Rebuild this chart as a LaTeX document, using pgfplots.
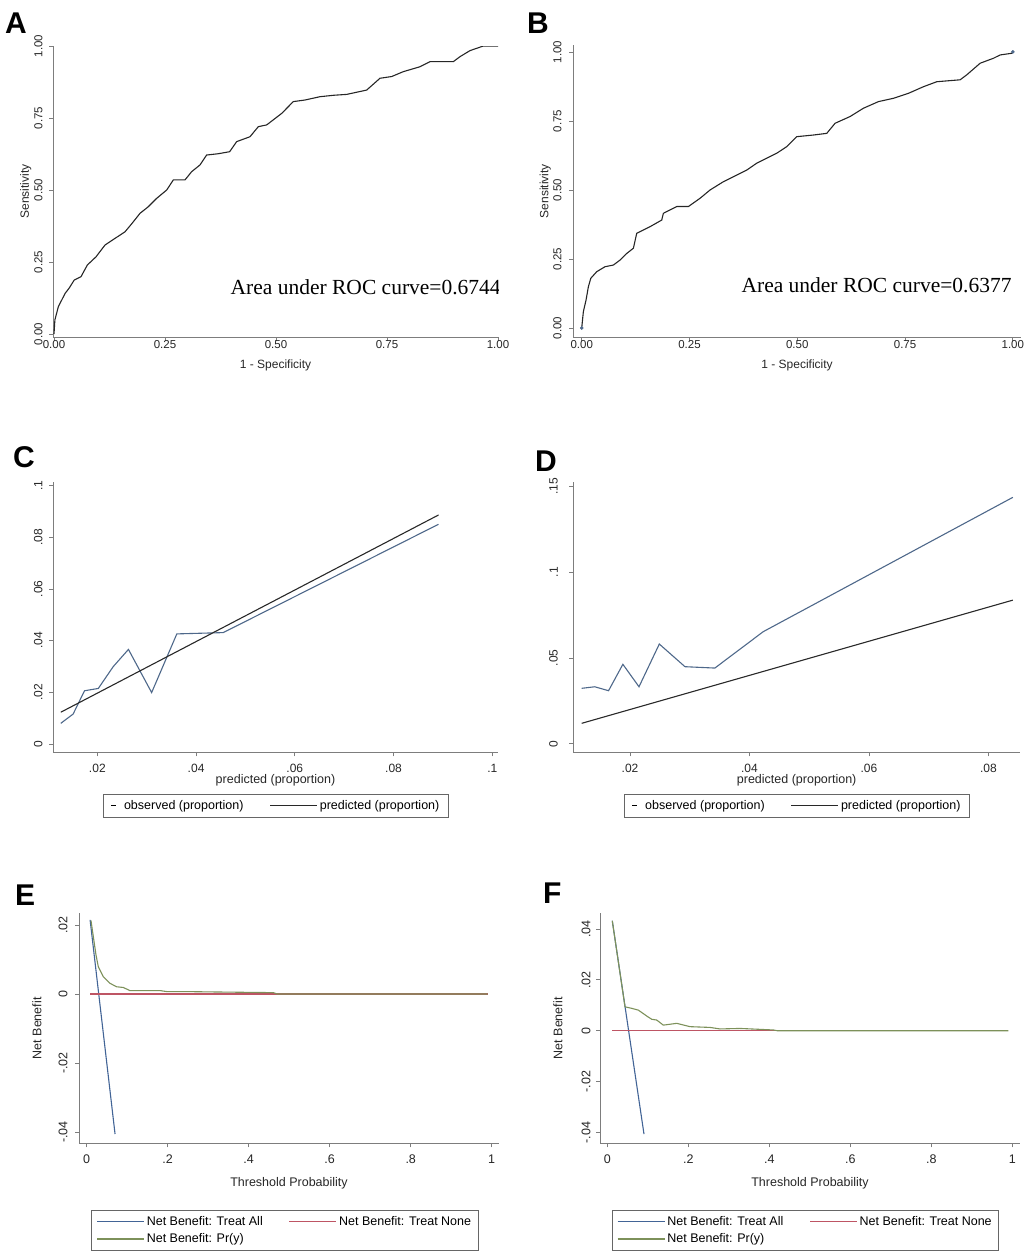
\documentclass[border=0pt]{standalone}
\usepackage{fontspec}
\setmainfont{Liberation Sans}
\newfontfamily\timesfont{Liberation Serif}
\usepackage{pgfplots}
\pgfplotsset{compat=1.18}

\definecolor{axgray}{RGB}{125,125,125}
\definecolor{obs}{RGB}{78,104,138}
\definecolor{pred}{RGB}{40,40,40}
\definecolor{tall}{RGB}{66,100,150}
\definecolor{tnone}{RGB}{190,85,100}
\definecolor{pry}{RGB}{125,145,90}

\newcommand{\fsz}[1]{\fontsize{#1bp}{#1bp}\selectfont}

\pgfplotsset{
  stata/.style={
    scale only axis,
    axis x line*=bottom, axis y line*=left,
    axis line style={axgray, line width=0.8bp},
    tick style={axgray, line width=0.7bp},
    major tick length=4bp,
    tick align=outside,
    minor tick num=0,
    scaled ticks=false,
    yticklabel style={rotate=90, anchor=south},
    ticklabel style={font=\fsz{11.5}, text=black!85},
    label style={font=\fsz{12}, text=black!85},
  },
  statalegend/.style={
    legend style={draw=black!60, line width=0.6bp, font=\fsz{12.5},
      inner xsep=7bp, inner ysep=4bp, legend columns=2, row sep=3bp,
      /tikz/every even column/.append style={column sep=24bp}},
    legend cell align=left,
  },
  legpred/.style={legend image code/.code={\draw[draw=pred, line width=1.3bp] (0bp,0bp)--(47bp,0bp);}},
  legobs/.style={legend image code/.code={\draw[draw=black, line width=1bp] (0bp,0bp)--(5bp,0bp); \path[draw=none] (0bp,0bp)--(11bp,0bp);}},
  legtall/.style={legend image code/.code={\draw[draw=tall, line width=1.3bp] (0bp,0bp)--(47bp,0bp);}},
  legtnone/.style={legend image code/.code={\draw[draw=tnone, line width=1.3bp] (0bp,0bp)--(47bp,0bp);}},
  legpry/.style={legend image code/.code={\draw[draw=pry, line width=1.3bp] (0bp,0bp)--(47bp,0bp);}},
}

\begin{document}
\begin{tikzpicture}[x=1bp,y=-1bp]
\useasboundingbox (0,0) rectangle (1027,1251);

% ---------------- A: ROC, development
\begin{axis}[stata, at={(53bp,-337bp)}, anchor=south west,
  width=445bp, height=291bp,
  xmin=-0.00225, xmax=1.0, ymin=-0.0104, ymax=1.0,
  xtick={0,0.25,0.5,0.75,1}, xticklabels={0.00,0.25,0.50,0.75,1.00},
  ytick={0,0.25,0.5,0.75,1}, yticklabels={0.00,0.25,0.50,0.75,1.00},
  xticklabel shift=-4bp, yticklabel shift=3bp,
  xlabel={1 - Specificity}, ylabel={Sensitivity},
  xlabel style={at={(axis description cs:0.5,-0.096)}, anchor=center},
  ylabel style={at={(axis description cs:-0.061,0.5)}, anchor=center},
]
\addplot[black!85, line width=1.1bp] coordinates {
 (0,0) (0.002,0.049) (0.0098,0.095) (0.025,0.141) (0.034,0.159) (0.0456,0.1875)
 (0.0608,0.199) (0.0751,0.2396) (0.0946,0.268) (0.1149,0.309) (0.1374,0.332)
 (0.16,0.355) (0.1757,0.384) (0.1937,0.419) (0.2124,0.442) (0.2312,0.471)
 (0.2538,0.5) (0.2688,0.535) (0.295,0.535) (0.31,0.5636) (0.3288,0.587)
 (0.3438,0.6215) (0.37,0.626) (0.3956,0.633) (0.4114,0.668) (0.4414,0.685) (0.4602,0.72)
 (0.479,0.726) (0.5128,0.766) (0.539,0.807) (0.5653,0.8125) (0.5991,0.824)
 (0.63,0.829) (0.6592,0.832) (0.7042,0.847) (0.7342,0.888) (0.7605,0.894) (0.7868,0.911)
 (0.8243,0.928) (0.8468,0.9456) (0.8994,0.9456) (0.9144,0.963) (0.9369,0.984)
 (0.967,1.0) (1.0,1.0)
};
\node[font=\timesfont\fsz{21.5}] at (axis cs:0.702,0.163) {Area under ROC curve=0.6744};
\end{axis}

% ---------------- B: ROC, validation
\begin{axis}[stata, at={(573bp,-337bp)}, anchor=south west,
  width=448bp, height=292bp,
  xmin=-0.0202, xmax=1.019, ymin=-0.0326, ymax=1.025,
  xtick={0,0.25,0.5,0.75,1}, xticklabels={0.00,0.25,0.50,0.75,1.00},
  ytick={0,0.25,0.5,0.75,1}, yticklabels={0.00,0.25,0.50,0.75,1.00},
  xticklabel shift=-4bp, yticklabel shift=4bp,
  xlabel={1 - Specificity}, ylabel={Sensitivity},
  xlabel style={at={(axis description cs:0.5,-0.096)}, anchor=center},
  ylabel style={at={(axis description cs:-0.062,0.5)}, anchor=center},
]
\addplot[black!85, line width=1.1bp] coordinates {
 (0,0) (0.0038,0.059) (0.01,0.101) (0.0155,0.15) (0.021,0.18) (0.0348,0.204)
 (0.054,0.222) (0.0735,0.228) (0.0889,0.246) (0.1044,0.27) (0.1199,0.289)
 (0.1276,0.343) (0.1585,0.367) (0.1856,0.391) (0.1895,0.4155) (0.2204,0.44)
 (0.2475,0.44) (0.2746,0.47) (0.2978,0.5) (0.3287,0.53) (0.3596,0.554)
 (0.3828,0.572) (0.406,0.597) (0.4292,0.615) (0.4524,0.633) (0.4756,0.657)
 (0.4988,0.693) (0.5375,0.699) (0.5684,0.705) (0.5877,0.7415) (0.6225,0.766)
 (0.6535,0.796) (0.6883,0.82) (0.7231,0.832) (0.7579,0.85) (0.7927,0.874)
 (0.8236,0.892) (0.8778,0.899) (0.8932,0.917) (0.9242,0.959) (0.9551,0.977)
 (0.9706,0.989) (0.9977,0.995) (1,1)
};
\addplot[only marks, mark=*, mark size=1.6bp, color=obs] coordinates {(0,0) (1,1)};
\node[font=\timesfont\fsz{21.5}] at (axis cs:0.684,0.156) {Area under ROC curve=0.6377};
\end{axis}

% ---------------- C: calibration, development
\begin{axis}[stata, statalegend, at={(53bp,-752.3bp)}, anchor=south west,
  width=445bp, height=270.6bp,
  xmin=0.01102, xmax=0.10115, ymin=-0.00321, ymax=0.10147,
  xtick={0.02,0.04,0.06,0.08,0.1}, xticklabels={.02,.04,.06,.08,.1},
  ytick={0,0.02,0.04,0.06,0.08,0.1}, yticklabels={0,.02,.04,.06,.08,.1},
  xticklabel shift=4bp, yticklabel shift=3bp,
  ticklabel style={font=\fsz{12}},
  xlabel={predicted (proportion)},
  xlabel style={at={(axis description cs:0.5,-0.105)}, anchor=center, font=\fsz{12.5}},
  legend style={at={(0.501,-0.154)}, anchor=north},
]
\addplot[obs, line width=1.1bp, legobs] coordinates {
 (0.0126,0.008) (0.0151,0.0116) (0.0174,0.0206) (0.0202,0.0215) (0.0232,0.0299)
 (0.0263,0.0366) (0.031,0.0199) (0.0361,0.0426) (0.0455,0.0431) (0.0891,0.085)
};
\addlegendentry{observed (proportion)}
\addplot[pred, line width=1.1bp, legpred] coordinates {(0.0126,0.0123) (0.0891,0.0886)};
\addlegendentry{predicted (proportion)}
\end{axis}

% ---------------- D: calibration, validation
\begin{axis}[stata, statalegend, at={(573.3bp,-752.3bp)}, anchor=south west,
  width=446.7bp, height=270.6bp,
  xmin=0.0105, xmax=0.0853, ymin=-0.005, ymax=0.1527,
  xtick={0.02,0.04,0.06,0.08}, xticklabels={.02,.04,.06,.08},
  ytick={0,0.05,0.1,0.15}, yticklabels={0,.05,.1,.15},
  xticklabel shift=4bp, yticklabel shift=8bp,
  ticklabel style={font=\fsz{12}},
  xlabel={predicted (proportion)},
  xlabel style={at={(axis description cs:0.5,-0.105)}, anchor=center, font=\fsz{12.5}},
  legend style={at={(0.501,-0.154)}, anchor=north},
]
\addplot[obs, line width=1.1bp, legobs] coordinates {
 (0.0119,0.0323) (0.0141,0.0332) (0.0164,0.0309) (0.0188,0.0463) (0.0215,0.0332)
 (0.0249,0.0581) (0.0292,0.0449) (0.0342,0.0441) (0.0423,0.0653) (0.0841,0.1436)
};
\addlegendentry{observed (proportion)}
\addplot[pred, line width=1.1bp, legpred] coordinates {(0.0119,0.0119) (0.0841,0.0837)};
\addlegendentry{predicted (proportion)}
\end{axis}

% ---------------- E: decision curve, development
\begin{axis}[stata, statalegend, at={(79bp,-1143.3bp)}, anchor=south west,
  width=420bp, height=230bp,
  xmin=-0.019, xmax=1.018, ymin=-0.0433, ymax=0.0234,
  xtick={0,0.2,0.4,0.6,0.8,1}, xticklabels={0,.2,.4,.6,.8,1},
  ytick={-0.04,-0.02,0,0.02}, yticklabels={-.04,-.02,0,.02},
  xticklabel shift=4bp, yticklabel shift=4bp,
  ticklabel style={font=\fsz{12.5}},
  xlabel={Threshold Probability}, ylabel={Net Benefit},
  xlabel style={at={(axis description cs:0.5,-0.174)}, anchor=center, font=\fsz{12.5}},
  ylabel style={at={(axis description cs:-0.1,0.5)}, anchor=center, font=\fsz{12.5}},
  legend style={at={(0.49,-0.29)}, anchor=north, inner xsep=5bp},
]
\addplot[tall, line width=1.1bp, legtall] coordinates {(0.0084,0.0215) (0.07,-0.0406)};
\addlegendentry{Net Benefit: Treat All}
\addplot[tnone, line width=1.1bp, legtnone] coordinates {(0.0084,0) (0.99,0)};
\addlegendentry{Net Benefit: Treat None}
\addplot[pry, line width=1.1bp, legpry] coordinates {
 (0.0106,0.0213) (0.023,0.0113) (0.0287,0.0079) (0.041,0.005) (0.0575,0.0031)
 (0.074,0.0021) (0.0904,0.0019) (0.107,0.00097) (0.148,0.001) (0.181,0.001)
 (0.198,0.0007) (0.2475,0.0007) (0.313,0.0006) (0.461,0.0004) (0.47,0) (0.99,0)
};
\addlegendentry{Net Benefit: Pr(y)}
\end{axis}

% ---------------- F: decision curve, validation
\begin{axis}[stata, statalegend, at={(600bp,-1143.3bp)}, anchor=south west,
  width=420bp, height=230bp,
  xmin=-0.018, xmax=1.019, ymin=-0.04424, ymax=0.04613,
  xtick={0,0.2,0.4,0.6,0.8,1}, xticklabels={0,.2,.4,.6,.8,1},
  ytick={-0.04,-0.02,0,0.02,0.04}, yticklabels={-.04,-.02,0,.02,.04},
  xticklabel shift=4bp, yticklabel shift=2bp,
  ticklabel style={font=\fsz{12.5}},
  xlabel={Threshold Probability}, ylabel={Net Benefit},
  xlabel style={at={(axis description cs:0.5,-0.174)}, anchor=center, font=\fsz{12.5}},
  ylabel style={at={(axis description cs:-0.1,0.5)}, anchor=center, font=\fsz{12.5}},
  legend style={at={(0.489,-0.29)}, anchor=north, inner xsep=5bp},
]
\addplot[tall, line width=1.1bp, legtall] coordinates {(0.0123,0.0432) (0.0906,-0.0406)};
\addlegendentry{Net Benefit: Treat All}
\addplot[tnone, line width=1.1bp, legtnone] coordinates {(0.0123,0) (0.99,0)};
\addlegendentry{Net Benefit: Treat None}
\addplot[pry, line width=1.1bp, legpry] coordinates {
 (0.0123,0.0432) (0.0437,0.0094) (0.0602,0.0088) (0.0766,0.0081) (0.0972,0.0058)
 (0.1096,0.0045) (0.122,0.0042) (0.1383,0.0022) (0.1713,0.0029) (0.2042,0.0016)
 (0.2536,0.0013) (0.2783,0.0007) (0.3277,0.0009) (0.41,0.0003) (0.42,0) (0.99,0)
};
\addlegendentry{Net Benefit: Pr(y)}
\end{axis}

% panel letters
\begin{scope}[every node/.style={font=\bfseries\fsz{30}, inner sep=0pt, anchor=base west}]
\node at (5bp,-33bp) {A};
\node at (527bp,-33bp) {B};
\node at (13bp,-467bp) {C};
\node at (535bp,-471bp) {D};
\node at (15bp,-905bp) {E};
\node at (543bp,-903bp) {F};
\end{scope}
\end{tikzpicture}
\end{document}
